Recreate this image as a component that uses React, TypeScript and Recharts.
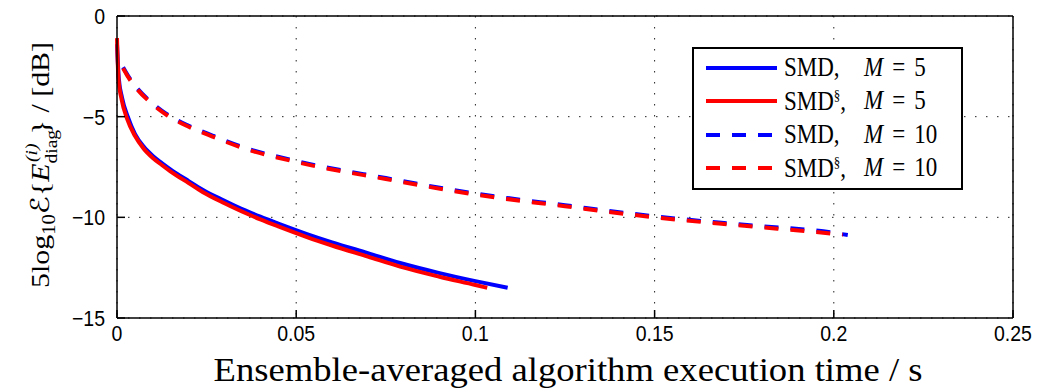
import React from "react";
import { LineChart, Line, XAxis, YAxis, CartesianGrid, Legend } from "recharts";

const xTicks = [0, 0.05, 0.1, 0.15, 0.2, 0.25];
const yTicks = [-15, -10, -5, 0];

// [time in s, value in dB]
const smdM5: [number, number][] = [
  [0, -1.4], [0.0005, -3.1], [0.0014, -4.05], [0.003, -5.0], [0.005, -5.85], [0.0075, -6.5],
  [0.01, -6.95], [0.0125, -7.3], [0.0148, -7.6], [0.02, -8.2], [0.024, -8.64], [0.03, -9.18],
  [0.0335, -9.48], [0.04, -9.97], [0.045, -10.31], [0.053, -10.83], [0.06, -11.24], [0.07, -11.78],
  [0.079, -12.27], [0.09, -12.77], [0.1, -13.17], [0.109, -13.5],
];
const smdSectM5: [number, number][] = [
  [0, -1.1], [0.0004, -3.1], [0.0013, -4.15], [0.0028, -5.1], [0.005, -5.95], [0.0075, -6.6],
  [0.01, -7.05], [0.0125, -7.4], [0.0148, -7.7], [0.02, -8.3], [0.024, -8.75], [0.03, -9.3],
  [0.0335, -9.6], [0.04, -10.1], [0.045, -10.45], [0.053, -10.98], [0.06, -11.4], [0.07, -11.95],
  [0.079, -12.45], [0.09, -12.95], [0.1, -13.36], [0.1033, -13.5],
];
const smdM10: [number, number][] = [
  [0.0017, -2.55], [0.003, -2.95], [0.005, -3.45], [0.01, -4.35], [0.0137, -4.85], [0.02, -5.45],
  [0.0268, -5.95], [0.035, -6.5], [0.05, -7.2], [0.075, -8.05], [0.1, -8.82], [0.125, -9.4],
  [0.15, -9.95], [0.175, -10.37], [0.2, -10.77], [0.2039, -10.88],
];
const smdSectM10: [number, number][] = [
  [0.0017, -2.6], [0.003, -3.0], [0.005, -3.5], [0.01, -4.4], [0.0137, -4.9], [0.02, -5.5],
  [0.0268, -6.0], [0.035, -6.55], [0.05, -7.25], [0.075, -8.1], [0.1, -8.87], [0.125, -9.45],
  [0.15, -10.0], [0.175, -10.42], [0.2, -10.82], [0.2025, -10.87],
];

const toRows = (pts: [number, number][]) => pts.map(([t, e]) => ({ t, e }));

const series = [
  { name: "SMD, M = 5", sect: false, M: 5, color: "#0000ff", dash: undefined, data: toRows(smdM5) },
  { name: "SMD§, M = 5", sect: true, M: 5, color: "#ff0000", dash: undefined, data: toRows(smdSectM5) },
  { name: "SMD, M = 10", sect: false, M: 10, color: "#0000ff", dash: "14 12", data: toRows(smdM10) },
  { name: "SMD§, M = 10", sect: true, M: 10, color: "#ff0000", dash: "14 12", data: toRows(smdSectM10) },
];

const SERIF = "'Liberation Serif', 'DejaVu Serif', serif";
const SANS = "'Liberation Sans', Arial, sans-serif";
const STRETCH = 1.15;

const fmtY = (v: number) => (v < 0 ? "\u2212" + Math.abs(v) : String(v));

function XTick({ x, y, payload }: any) {
  return (
    <g transform={`translate(${x},${y}) scale(1,${STRETCH})`}>
      <text x={0} y={0} dy="0.75em" textAnchor="middle" fontFamily={SANS} fontSize={19.5} fill="#000">
        {String(payload.value)}
      </text>
    </g>
  );
}

function YTick({ x, y, payload }: any) {
  return (
    <g transform={`translate(${x},${y}) scale(1,${STRETCH})`}>
      <text x={0} y={0} dy="0.36em" textAnchor="end" fontFamily={SANS} fontSize={19.5} fill="#000">
        {fmtY(payload.value)}
      </text>
    </g>
  );
}

function XLabel({ viewBox }: any) {
  const cx = viewBox.x + viewBox.width / 2 + 3;
  const cy = viewBox.y + 63;
  return (
    <text
      transform={`translate(${cx},${cy}) scale(1,1.1)`}
      textAnchor="middle"
      fontFamily={SERIF}
      fontSize={31}
      fill="#000"
      textLength={709}
      lengthAdjust="spacingAndGlyphs"
    >
      Ensemble-averaged algorithm execution time / s
    </text>
  );
}

function YLabel({ viewBox }: any) {
  const bx = viewBox.x - 67;
  const cy = viewBox.y + viewBox.height / 2 - 2;
  return (
    <text transform={`translate(${bx},${cy}) scale(1,${STRETCH}) rotate(-90)`} textAnchor="middle" fontFamily={SERIF} fontSize={26} fill="#000">
      <tspan>5log</tspan>
      <tspan fontSize={18} dy={6}>10</tspan>
      <tspan dy={-6} fontFamily="'DejaVu Sans', sans-serif" fontStyle="italic">ℰ</tspan>
      <tspan>{"{"}</tspan>
      <tspan fontStyle="italic">E</tspan>
      <tspan fontSize={17} dy={8}>diag</tspan>
      <tspan fontSize={17} fontStyle="italic" dx={-28} dy={-20}>(i)</tspan>
      <tspan dx={8} dy={12}>{"}"} / [dB]</tspan>
    </text>
  );
}

function LegendBox({ payload }: any) {
  const items = payload || [];
  return (
    <div
      style={{
        border: "2px solid #000",
        background: "#fff",
        boxSizing: "border-box",
        width: 271,
        height: 143,
        paddingTop: 2,
        paddingLeft: 12,
        fontFamily: SERIF,
        fontSize: 23,
        color: "#000",
      }}
    >
      {series.map((s) => {
        const p = items.find((d: any) => d.value === s.name);
        const color = p ? p.color : s.color;
        return (
          <div key={s.name} style={{ height: 33.5, display: "flex", alignItems: "center" }}>
            <svg width={71} height={6} style={{ display: "block" }}>
              <line x1={0} y1={3} x2={71} y2={3} stroke={color} strokeWidth={4} strokeDasharray={s.dash} />
            </svg>
            <span style={{ marginLeft: 7, width: 80, display: "inline-block", transform: `scaleY(${STRETCH})` }}>
              SMD{s.sect && <span style={{ fontSize: 13, verticalAlign: 9 }}>§</span>},
            </span>
            <span style={{ display: "inline-block", transform: `scaleY(${STRETCH})` }}>
              <i>M</i>
              <span style={{ margin: "0 9px" }}>=</span>
              {s.M}
            </span>
          </div>
        );
      })}
    </div>
  );
}

export default function App() {
  return (
    <div style={{ position: "absolute", left: 0, top: 0, width: 1046, height: 392, background: "#fff" }}>
      <LineChart width={1046} height={392} margin={{ top: 15, right: 32, bottom: 73, left: 116 }}>
        <CartesianGrid xAxisId="b" yAxisId="l" stroke="#222" strokeDasharray="1.5 9.5" />
        <XAxis
          xAxisId="b"
          dataKey="t"
          type="number"
          domain={[0, 0.25]}
          ticks={xTicks}
          height={1}
          tickSize={-8}
          tickMargin={14}
          tick={<XTick />}
          stroke="#000"
          strokeWidth={1.5}
          label={{ content: XLabel }}
        />
        <XAxis
          xAxisId="t"
          orientation="top"
          type="number"
          domain={[0, 0.25]}
          ticks={xTicks}
          height={1}
          tickSize={-8}
          tick={false}
          stroke="#000"
          strokeWidth={1.5}
        />
        <YAxis
          yAxisId="l"
          type="number"
          domain={[-15, 0]}
          ticks={yTicks}
          width={1}
          tickSize={-8}
          tickMargin={20}
          tick={<YTick />}
          stroke="#000"
          strokeWidth={1.5}
          label={{ content: YLabel }}
        />
        <YAxis
          yAxisId="r"
          orientation="right"
          type="number"
          domain={[-15, 0]}
          ticks={yTicks}
          width={1}
          tickSize={-8}
          tick={false}
          stroke="#000"
          strokeWidth={1.5}
        />
        {series.map((s) => (
          <Line
            key={s.name}
            xAxisId="b"
            yAxisId="l"
            data={s.data}
            dataKey="e"
            name={s.name}
            type="monotone"
            stroke={s.color}
            strokeWidth={4}
            strokeDasharray={s.dash}
            dot={false}
            activeDot={false}
            isAnimationActive={false}
          />
        ))}
        <Legend
          layout="vertical"
          align="center"
          verticalAlign="middle"
          wrapperStyle={{ left: 692, top: 47, width: 271, height: 143 }}
          content={LegendBox}
        />
      </LineChart>
    </div>
  );
}
